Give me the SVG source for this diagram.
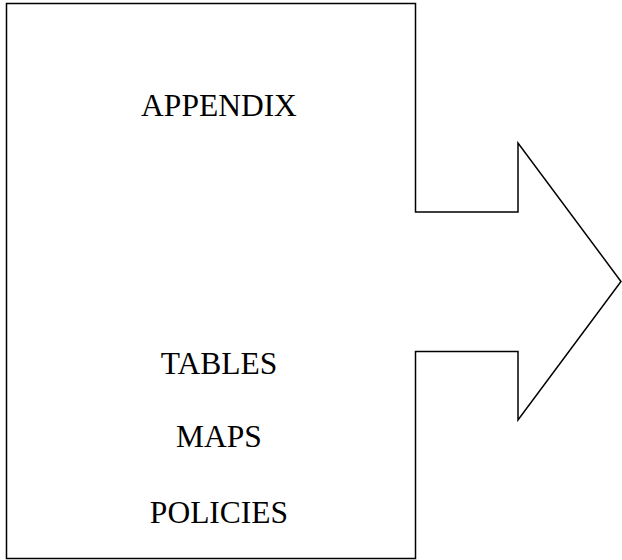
<svg xmlns="http://www.w3.org/2000/svg" width="622" height="560" viewBox="0 0 622 560">
<style>
.shape{fill:#fff;stroke:#000;stroke-width:1.5;stroke-linejoin:miter}
.t{font-family:"Liberation Serif","Times New Roman",serif;font-size:31.5px;fill:#000;text-anchor:middle}
</style>
<rect width="622" height="560" fill="#fff"/>
<g id="appendix-arrow">
<polygon class="shape" points="6.5,3.5 415.5,3.5 415.5,212 518,212 518,143 621,281.5 518,420 518,351.5 415.5,351.5 415.5,558.5 6.5,558.5"/>
</g>
<g id="labels">
<text class="t" x="219" y="116">APPENDIX</text>
<text class="t" x="219" y="374">TABLES</text>
<text class="t" x="219" y="447">MAPS</text>
<text class="t" x="219" y="523">POLICIES</text>
</g>
<g id="connectors"></g>
</svg>
